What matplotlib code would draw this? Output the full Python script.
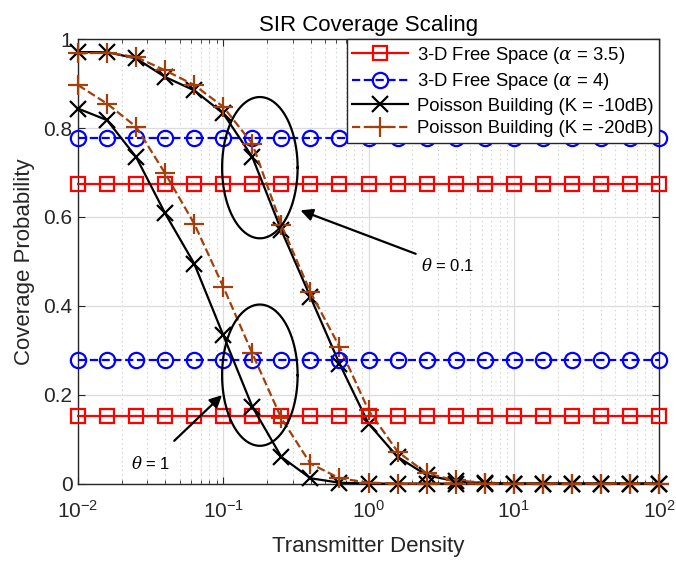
import numpy as np
import matplotlib
matplotlib.use('Agg')
import matplotlib.pyplot as plt

plt.rcParams['font.family'] = ['Liberation Sans', 'DejaVu Sans']
plt.rcParams['mathtext.fontset'] = 'dejavuserif'

# transmitter density, 5 points per decade
density = np.logspace(-2, 2, 21)

# 3-D free space (flat lines): theta = 0.1 and theta = 1
free35_hi = [0.675] * 21
free35_lo = [0.153] * 21
free4_hi = [0.777] * 21
free4_lo = [0.278] * 21

# Poisson building, theta = 0.1
pb10_hi = [0.971, 0.971, 0.957, 0.915, 0.885, 0.833, 0.735, 0.570, 0.420, 0.270,
           0.135, 0.060, 0.019, 0.005, 0.001, 0, 0, 0, 0, 0, 0]
pb20_hi = [0.968, 0.970, 0.960, 0.930, 0.897, 0.848, 0.765, 0.582, 0.431, 0.308,
           0.165, 0.072, 0.023, 0.007, 0.002, 0, 0, 0, 0, 0, 0]
# Poisson building, theta = 1
pb10_lo = [0.844, 0.818, 0.735, 0.608, 0.495, 0.334, 0.173, 0.060, 0.012, 0.002,
           0, 0, 0, 0, 0, 0, 0, 0, 0, 0, 0]
pb20_lo = [0.897, 0.855, 0.803, 0.698, 0.585, 0.443, 0.293, 0.147, 0.045, 0.012,
           0.002, 0, 0, 0, 0, 0, 0, 0, 0, 0, 0]

brown = '#A33F0B'

fig = plt.figure(figsize=(6.76, 5.61), dpi=100)
ax = fig.add_axes([0.1154, 0.138, 0.8595, 0.792])

kw = dict(lw=1.6, mfc='none', mew=1.6, clip_on=False, zorder=3)
ax.plot(density, free35_hi, '-', color='r', marker='s', ms=10, label=r'3-D Free Space ($\alpha$ = 3.5)', **kw)
ax.plot(density, free4_hi, '--', color='b', marker='o', ms=11, label=r'3-D Free Space ($\alpha$ = 4)', **kw)
ax.plot(density, pb10_hi, '-', color='k', marker='x', ms=11, label='Poisson Building (K = -10dB)', **kw)
ax.plot(density, pb20_hi, '--', color=brown, marker='+', ms=14, label='Poisson Building (K = -20dB)', **kw)
ax.plot(density, free35_lo, '-', color='r', marker='s', ms=10, **kw)
ax.plot(density, free4_lo, '--', color='b', marker='o', ms=11, **kw)
ax.plot(density, pb10_lo, '-', color='k', marker='x', ms=11, **kw)
ax.plot(density, pb20_lo, '--', color=brown, marker='+', ms=14, **kw)

# ellipses drawn in log-x space
t = np.linspace(0, 2 * np.pi, 200)
for cy in (0.711, 0.244):
    ax.plot(10 ** (np.log10(0.1786) + 0.26 * np.cos(t)), cy + 0.159 * np.sin(t),
            color='k', lw=1.6, zorder=4)

ax.annotate(r'$\theta$ = 0.1', xy=(0.34, 0.615), xytext=(2.3, 0.49),
            fontsize=12, va='center', ha='left',
            arrowprops=dict(arrowstyle='-|>', color='k', lw=1.6, mutation_scale=18,
                            shrinkA=2, shrinkB=0))
ax.annotate(r'$\theta$ = 1', xy=(0.098, 0.199), xytext=(0.0315, 0.045),
            fontsize=12, va='center', ha='center',
            arrowprops=dict(arrowstyle='-|>', color='k', lw=1.6, mutation_scale=18,
                            shrinkA=12, shrinkB=0))

ax.set_xscale('log')
ax.set_xlim(1e-2, 1e2)
ax.set_ylim(0, 1)
ax.set_yticks([0, 0.2, 0.4, 0.6, 0.8, 1])
ax.set_yticklabels(['0', '0.2', '0.4', '0.6', '0.8', '1'])
ax.tick_params(which='both', direction='in', top=True, right=True, labelsize=15, colors='#262626')
ax.tick_params(which='major', length=5)
ax.tick_params(which='minor', length=3)
ax.tick_params(axis='x', which='major', pad=12)
ax.tick_params(axis='y', which='major', pad=4)
ax.grid(True, which='major', color='#dcdcdc', lw=0.9)
ax.grid(True, which='minor', axis='x', color='#c8c8c8', lw=0.8, ls=(0, (1, 3)))
for s in ax.spines.values():
    s.set_color('#262626')
    s.set_linewidth(1.0)

ax.set_xlabel('Transmitter Density', fontsize=16, color='#262626', labelpad=10)
ax.set_ylabel('Coverage Probability', fontsize=16, color='#262626', labelpad=6)
ax.set_title('SIR Coverage Scaling', fontsize=16, pad=6)

leg = ax.legend(loc='upper right', fontsize=13.3, borderaxespad=0.0, handlelength=3.0,
                fancybox=False, framealpha=1, edgecolor='#262626', borderpad=0.3,
                labelspacing=0.3, handletextpad=0.5)
leg.get_frame().set_linewidth(1.0)
leg.set_zorder(10)

fig.savefig('out.png', dpi=100)
